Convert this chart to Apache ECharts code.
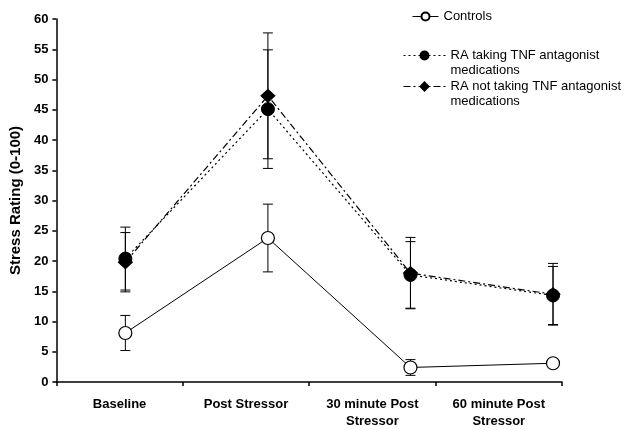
<!DOCTYPE html>
<html>
<head>
<meta charset="utf-8">
<script src="https://cdn.jsdelivr.net/npm/echarts@6/dist/echarts.min.js"></script>
<style>
html, body { margin: 0; padding: 0; background: #fff; }
#chart { width: 634px; height: 430px; }
</style>
</head>
<body>
<div id="chart"></div>
<script>
// data
const categories = ['Baseline', 'Post Stressor', '30 minute Post\nStressor', '60 minute Post\nStressor'];
const controls = [8.1, 23.8, 2.4, 3.1];
const controlsErr = [2.9, 5.6, 1.3, 0.6];
const raTnf = [20.4, 45.1, 17.7, 14.3];
const raTnfErr = [5.2, 9.8, 5.5, 4.8];
const raNoTnf = [19.8, 47.3, 18.0, 14.5];
const raNoTnfErr = [4.9, 10.4, 5.9, 5.1];
const yMin = 0, yMax = 60, yStep = 5;
// markers sit a bit right of the label centres in the original
const xValueMin = -0.484, xValueMax = 3.063;

const nameControls = 'Controls';
const nameTnf = 'RA taking TNF antagonist medications';
const nameNoTnf = 'RA not taking TNF antagonist medications';

const font = 'Arial, "Liberation Sans", sans-serif';
const chart = echarts.init(document.getElementById('chart'));

function toPoints(vals) {
    return vals.map((v, i) => [i, v]);
}

function errorBars(name, vals, errs) {
    return {
        type: 'custom',
        name: name + ' SE',
        xAxisIndex: 1,
        silent: true,
        clip: false,
        z: 1,
        encode: { x: 0, y: [1, 2] },
        data: vals.map((v, i) => [i, v - errs[i], v + errs[i]]),
        renderItem: function (params, api) {
            const lo = api.coord([api.value(0), api.value(1)]);
            const hi = api.coord([api.value(0), api.value(2)]);
            const w = 5;
            const st = { stroke: '#000', lineWidth: 1 };
            return {
                type: 'group',
                children: [
                    { type: 'line', shape: { x1: lo[0], y1: lo[1], x2: hi[0], y2: hi[1] }, style: st },
                    { type: 'line', shape: { x1: lo[0] - w, y1: lo[1], x2: lo[0] + w, y2: lo[1] }, style: st },
                    { type: 'line', shape: { x1: hi[0] - w, y1: hi[1], x2: hi[0] + w, y2: hi[1] }, style: st }
                ]
            };
        }
    };
}

function legendFor(name, top, left, width) {
    return {
        data: [name],
        top: top,
        left: left,
        padding: 0,
        itemWidth: width,
        itemHeight: 10,
        selectedMode: false,
        lineStyle: { width: 1 },
        textStyle: { color: '#000', fontSize: 13, fontFamily: font, lineHeight: 15 },
        formatter: function (n) {
            if (n === nameControls) return n;
            return '\n' + n.replace(' medications', '') + '\nmedications';
        }
    };
}

chart.setOption({
    backgroundColor: '#fff',
    animation: false,
    grid: { left: 56, right: 72, top: 19, bottom: 48, containLabel: false },
    legend: [
        legendFor(nameControls, 9, 412, 26),
        legendFor(nameTnf, 33, 403, 42),
        legendFor(nameNoTnf, 64, 403, 42)
    ],
    xAxis: [
        {
            type: 'category',
            data: categories,
            boundaryGap: true,
            axisLine: { onZero: false, lineStyle: { color: '#000', width: 1.5 } },
            axisTick: { show: true, inside: false, length: 4, lineStyle: { color: '#000', width: 1.5 } },
            axisLabel: {
                color: '#000', fontWeight: 'bold', fontSize: 13, fontFamily: font,
                margin: 14, lineHeight: 17, interval: 0
            },
            splitLine: { show: false }
        },
        {
            type: 'value',
            min: xValueMin,
            max: xValueMax,
            show: false,
            axisLine: { onZero: false },
            splitLine: { show: false }
        }
    ],
    yAxis: {
        type: 'value',
        min: yMin,
        max: yMax,
        interval: yStep,
        name: 'Stress Rating (0-100)',
        nameLocation: 'middle',
        nameRotate: 90,
        nameGap: 30,
        nameTextStyle: { color: '#000', fontWeight: 'bold', fontSize: 15, fontFamily: font },
        axisLine: { show: true, onZero: false, lineStyle: { color: '#000', width: 1.5 } },
        axisTick: { show: true, inside: false, length: 4, lineStyle: { color: '#000', width: 1.5 } },
        axisLabel: { color: '#000', fontWeight: 'bold', fontSize: 13, fontFamily: font, margin: 8 },
        splitLine: { show: false }
    },
    series: [
        errorBars(nameControls, controls, controlsErr),
        errorBars(nameTnf, raTnf, raTnfErr),
        errorBars(nameNoTnf, raNoTnf, raNoTnfErr),
        {
            name: nameControls,
            type: 'line',
            xAxisIndex: 1,
            z: 3,
            data: toPoints(controls),
            symbol: 'circle',
            symbolSize: 13,
            lineStyle: { color: '#000', width: 1, type: 'solid' },
            itemStyle: { color: '#fff', borderColor: '#000', borderWidth: 1.2 }
        },
        {
            name: nameTnf,
            type: 'line',
            xAxisIndex: 1,
            z: 3,
            data: toPoints(raTnf),
            symbol: 'circle',
            symbolSize: 13,
            lineStyle: { color: '#000', width: 1.2, type: [2, 3] },
            itemStyle: { color: '#000', borderColor: '#000', borderWidth: 1 }
        },
        {
            name: nameNoTnf,
            type: 'line',
            xAxisIndex: 1,
            z: 4,
            data: toPoints(raNoTnf),
            symbol: 'diamond',
            symbolSize: [14, 13],
            lineStyle: { color: '#000', width: 1.2, type: [7, 3, 2, 3] },
            itemStyle: { color: '#000', borderColor: '#000', borderWidth: 1 }
        }
    ]
});
</script>
</body>
</html>
